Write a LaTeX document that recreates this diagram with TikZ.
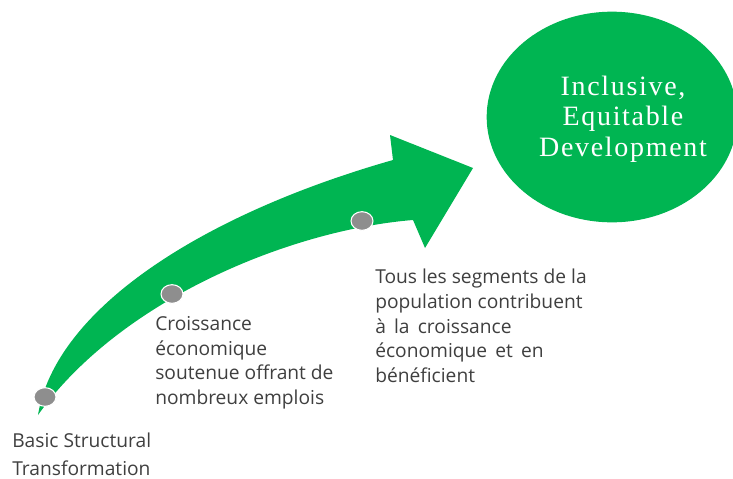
\documentclass[tikz,border=0pt]{standalone}
\usepackage{fontspec}
\setmainfont{Open Sans}
\newfontfamily\circfont[LetterSpace=6]{Liberation Serif}
\usetikzlibrary{shapes.geometric}
\definecolor{arrowgreen}{HTML}{00B552}
\definecolor{dotgray}{HTML}{8E8E8E}
\definecolor{txtgray}{HTML}{3F3F3F}
\begin{document}
\begin{tikzpicture}[x=0.75pt,y=-0.75pt,
  dot/.style={ellipse, fill=dotgray, draw=white, line width=0.8pt, minimum width=16.5pt, minimum height=14pt, inner sep=0pt},
  lbl/.style={anchor=north west, inner sep=0pt, align=left, text=txtgray, font=\fontsize{14.4}{18.5}\selectfont},
  goal/.style={ellipse, fill=arrowgreen, minimum width=188pt, minimum height=158pt, inner sep=0pt},
  goaltext/.style={inner sep=0pt, text=white, align=center, font=\circfont\fontsize{21}{23}\selectfont}]
\useasboundingbox (0,0) rectangle (733,479);
% arrow
\fill[arrowgreen] (38,415) .. controls (55,310) and (200,215) .. (393,160)
  -- (390,135) -- (473,168) -- (425,248) -- (413,220)
  .. controls (290,230) and (120,300) .. (38,415) -- cycle;
\node[goal] (goal) at (612,117) {};
\node[goaltext] (goaltxt) at (623,119) {Inclusive,\\Equitable\\Development};
\node[dot] (d1) at (45,397) {};
\node[dot] (d2) at (172,294) {};
\node[dot] (d3) at (362,221) {};
\node[lbl] (t1) at (12,433) {Basic Structural\\[2.5pt]Transformation};
\node[lbl] (t2) at (155,316) {Croissance\\économique\\soutenue offrant de\\nombreux emplois};
\node[lbl] (t3) at (375,269) {Tous les segments de la\\population contribuent\\à\, la\, croissance\\économique\, et\, en\\bénéficient};
\end{tikzpicture}
\end{document}
